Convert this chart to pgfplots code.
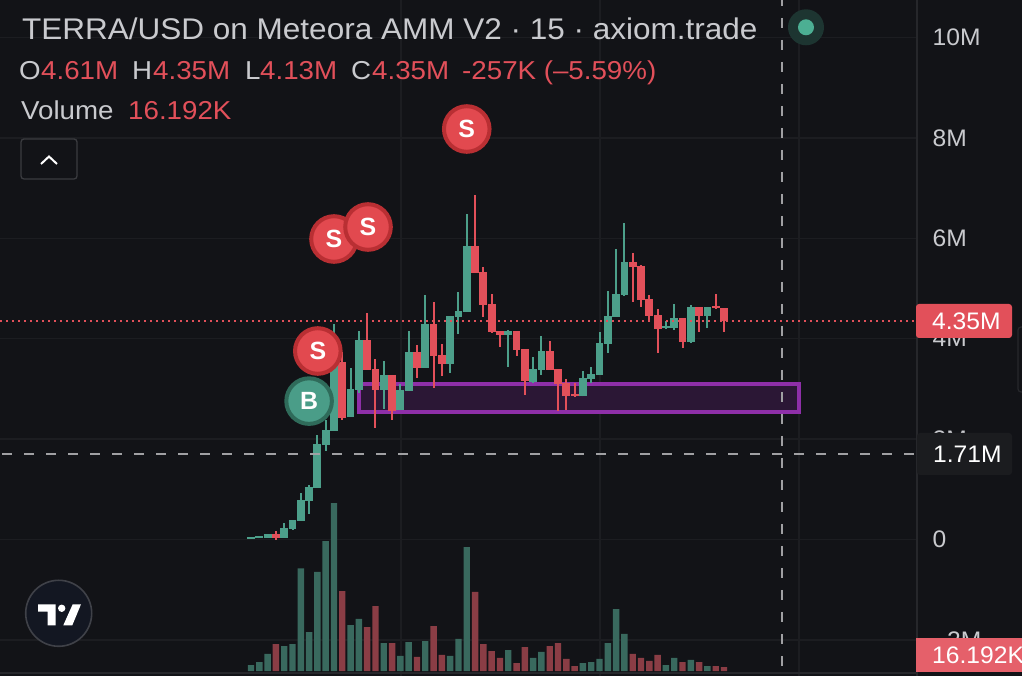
\documentclass[border=0pt]{standalone}
\usepackage{pgfplots}
\usepackage{pgfplotstable}
\usepackage{fontspec}
\pgfplotsset{compat=1.18}
\setmainfont{Liberation Sans}
\newfontfamily\uilegend[FakeStretch=1.07]{Liberation Sans}
\newfontfamily\uititle[FakeStretch=1.054]{Liberation Sans}
\newfontfamily\uitick[FakeStretch=1.03]{Liberation Sans}
\definecolor{bg}{HTML}{121317}
\definecolor{gridc}{HTML}{1C1D21}
\definecolor{sepc}{HTML}{26272B}
\definecolor{upc}{HTML}{4C9F8A}
\definecolor{downc}{HTML}{E2505A}
\definecolor{upv}{HTML}{39695E}
\definecolor{downv}{HTML}{8A3D45}
\definecolor{purp}{HTML}{8E2FA8}
\definecolor{purpf}{HTML}{2B1735}
\definecolor{txt}{HTML}{C9CACE}
\definecolor{cross}{HTML}{A0A0A3}
\definecolor{sbord}{HTML}{B92F33}
\definecolor{sfill}{HTML}{E2494F}
\definecolor{bbord}{HTML}{2F6B5A}
\definecolor{bfill}{HTML}{4A9D88}
\definecolor{btn}{HTML}{3A3B3F}
\definecolor{dotout}{HTML}{1D3531}
\definecolor{dotin}{HTML}{4CAF93}
\definecolor{logof}{HTML}{131722}
\definecolor{logob}{HTML}{3F4148}
\definecolor{tagd}{HTML}{1B1C1F}
\definecolor{tagv}{HTML}{E5606A}
\pgfplotstableread{
i o h l c v
0 0.01 0.05 0.01 0.05 24
1 0.02 0.06 0.02 0.06 36
2 0.03 0.11 0.03 0.11 69
4 0.03 0.32 0.03 0.22 101
5 0.21 0.39 0.20 0.39 109
6 0.37 0.92 0.37 0.79 416
7 0.77 1.085 0.51 1.05 157
8 1.03 2.08 1.03 1.90 401
9 1.89 2.38 1.77 2.18 526
10 2.17 4.29 2.17 3.50 680
12 2.44 3.41 2.44 2.99 186
13 2.98 4.15 2.91 3.97 211
16 2.98 3.56 2.60 3.28 113
18 2.57 3.10 2.57 2.98 61
19 2.96 4.15 2.96 3.74 117
21 3.42 4.87 3.42 4.29 121
24 3.50 4.45 3.32 4.45 61
25 4.43 4.94 4.09 4.55 130
26 4.54 6.48 4.54 5.85 502
31 4.08 4.17 3.44 4.15 85
34 3.14 3.63 3.11 3.39 53
35 3.38 4.05 3.28 3.75 77
40 2.85 3.35 2.85 3.22 32
41 3.20 3.43 3.11 3.30 36
42 3.28 4.14 3.28 3.91 49
43 3.89 4.95 3.72 4.45 113
44 4.44 5.78 4.44 4.90 251
45 4.88 6.30 4.86 5.53 150
50 4.21 4.35 4.19 4.25 24
51 4.21 4.69 4.17 4.41 53
53 3.93 4.68 3.91 4.64 45
55 4.46 4.63 4.22 4.63 20
}\upbars
\pgfplotstableread{
i o h l c v
3 0.11 0.175 -0.01 0.03 109
11 3.54 3.74 2.39 2.43 324
14 3.97 4.51 3.38 3.38 178
15 3.39 3.59 2.22 2.98 263
17 3.28 3.28 2.38 2.56 113
20 3.74 3.87 3.21 3.41 57
22 4.29 4.73 3.01 3.66 182
23 3.68 3.89 3.26 3.50 65
27 5.85 6.86 5.31 5.31 320
28 5.33 5.42 4.44 4.67 109
29 4.69 4.89 4.11 4.13 81
30 4.15 4.15 3.83 4.07 53
32 4.15 4.15 3.66 3.77 32
33 3.79 3.79 2.88 3.16 97
36 3.75 3.95 3.38 3.38 101
37 3.39 3.39 2.55 3.10 113
38 3.12 3.19 2.58 2.85 49
39 2.90 3.12 2.84 2.85 20
46 5.53 5.70 4.74 5.43 69
47 5.45 5.47 4.64 4.77 53
48 4.79 4.88 4.36 4.45 41
49 4.47 4.59 3.72 4.20 65
52 4.41 4.41 3.82 3.93 36
54 4.63 4.63 4.13 4.46 36
56 4.65 4.89 4.59 4.61 20
57 4.61 4.61 4.13 4.35 16.192
}\downbars
\pgfplotsset{
  chartbox/.style={at={(0,0)},anchor=south west,scale only axis,width=917bp,height=676bp,
    xmin=-30.25,xmax=80.26},
  priceaxis/.style={chartbox,ymin=-2.719,ymax=10.747},
  wick/.style={draw=none,mark=none,forget plot,error bars/.cd,y dir=both,y explicit,error mark=none,
    error bar style={#1,line width=2bp}},
  body/.style 2 args={draw=none,mark=none,forget plot,error bars/.cd,y dir=#2,y explicit,error mark=none,
    error bar style={#1,line width=7.8bp}},
  tradeS/.style={only marks,mark=*,mark size=22.8bp,
    mark options={draw=sbord,fill=sfill,line width=4bp},
    nodes near coords={S},
    every node near coord/.style={anchor=center,inner sep=0pt,text=white,font=\fontsize{25}{25}\selectfont\bfseries}},
  tradeB/.style={only marks,mark=*,mark size=22.8bp,
    mark options={draw=bbord,fill=bfill,line width=4bp},
    nodes near coords={B},
    every node near coord/.style={anchor=center,inner sep=0pt,text=white,font=\fontsize{25}{25}\selectfont\bfseries}},
}
\begin{document}
\begin{tikzpicture}
\useasboundingbox (0,0) rectangle (1022bp,676bp);
\fill[bg] (0,0) rectangle (1022bp,676bp);
% grid and price scale
\begin{axis}[priceaxis,
  axis line style={draw=none},
  xtick={18.08,42.06,66.04},xticklabels={},
  ytick={-2,0,2,4,6,8,10},
  yticklabels={−2M,0,2M,4M,6M,8M,10M},
  ymajorgrids,xmajorgrids,
  grid style={gridc,line width=1.4bp},
  major tick length=0pt,
  ytick pos=right,
  yticklabel style={anchor=west,xshift=15.5bp,text=txt,font=\fontsize{24}{24}\selectfont\uitick,inner sep=0pt},
]
\end{axis}
% volume
\begin{axis}[chartbox,hide axis,ymin=-20.2,ymax=2717.6]
\addplot[ybar,bar width=6.4bp,bar shift=0pt,fill=upv,draw=none] table[x=i,y=v] {\upbars};
\addplot[ybar,bar width=6.4bp,bar shift=0pt,fill=downv,draw=none] table[x=i,y=v] {\downbars};
\end{axis}
% candles
\begin{axis}[priceaxis,hide axis]
\draw[purp,line width=4bp,fill=purpf] (axis cs:13.02,2.54) rectangle (axis cs:66,3.098);
\addplot[wick=upc] table[x=i,y=o,y error plus expr=\thisrow{h}-\thisrow{o},y error minus expr=\thisrow{o}-\thisrow{l}] {\upbars};
\addplot[wick=downc] table[x=i,y=o,y error plus expr=\thisrow{h}-\thisrow{o},y error minus expr=\thisrow{o}-\thisrow{l}] {\downbars};
\addplot[body={upc}{plus}] table[x=i,y=o,y error plus expr=\thisrow{c}-\thisrow{o}] {\upbars};
\addplot[body={downc}{minus}] table[x=i,y=o,y error minus expr=\thisrow{o}-\thisrow{c}] {\downbars};
% last price and crosshair
\addplot[downc,line width=1.5bp,dash pattern=on 2bp off 4bp,mark=none] coordinates {(-30.25,4.353) (80.26,4.353)};
\addplot[cross,line width=2bp,dash pattern=on 10bp off 12bp,mark=none] coordinates {(-30,1.71) (80.26,1.71)};
\addplot[cross,line width=2bp,dash pattern=on 10bp off 12bp,dash phase=4bp,mark=none] coordinates {(64,10.747) (64,-2.719)};
% trades
\addplot[tradeB] coordinates {(7,2.757)};
\addplot[tradeS] coordinates {(8.05,3.755)};
\addplot[tradeS] coordinates {(10,5.986)};
\addplot[tradeS] coordinates {(14.1,6.225)};
\addplot[tradeS] coordinates {(26,8.177)};
\end{axis}
\begin{scope}[x=1bp,y=-1bp,yshift=676bp]
\draw[sepc,line width=1.2bp] (917,0) -- (917,676);
\draw[sepc,line width=1.2bp] (0,673) -- (917,673);
% legend text
\node[anchor=base west,inner sep=0pt,text=txt,font=\fontsize{30}{30}\selectfont\uititle] at (22,39.5) {TERRA/USD on Meteora AMM V2 · 15 · axiom.trade};
\begin{scope}[every node/.style={anchor=base west,inner sep=0pt,font=\fontsize{26}{26}\selectfont\uilegend}]
\node[text=txt] at (19,79.5) {O};
\node[text=downc] at (41,79.5) {4.61M};
\node[text=txt] at (132,79.5) {H};
\node[text=downc] at (153,79.5) {4.35M};
\node[text=txt] at (245,79.5) {L};
\node[text=downc] at (260,79.5) {4.13M};
\node[text=txt] at (351,79.5) {C};
\node[text=downc] at (372,79.5) {4.35M};
\node[text=downc] at (462,79.5) {-257K (–5.59\%)};
\node[text=txt] at (21,120) {Volume};
\node[text=downc] at (128,120) {16.192K};
\end{scope}
% collapse button
\draw[btn,line width=1.3bp,rounded corners=3bp] (21,139) rectangle (77,179);
\draw[white,line width=2bp] (41,164) -- (49,156.5) -- (57,164);
% status dot
\fill[dotout] (806,27.3) circle[radius=18];
\fill[dotin] (806,27.3) circle[radius=8];
% logo
\fill[logof] (58.7,613.3) circle[radius=33];
\draw[logob,line width=1.6bp] (58.7,613.3) circle[radius=33];
\fill[white] (38,604.3) -- (55.7,604.3) -- (55.7,625.3) -- (47.7,625.3) -- (47.7,611.7) -- (38,611.7) -- cycle;
\fill[white] (61.7,608.3) circle[radius=3.7];
\fill[white] (72.7,604.3) -- (81,604.3) -- (72.3,625.3) -- (63.3,625.3) -- cycle;
% right-hand tags
\draw[sepc,line width=1.2bp,rounded corners=3bp] (1018,327) rectangle (1040,392);
\fill[downc,rounded corners=3bp] (916,304) -- (1012,304) -- (1012,338) -- (916,338) -- cycle;
\node[anchor=base west,inner sep=0pt,text=white,font=\fontsize{24}{24}\selectfont\uitick] at (932,330) {4.35M};
\fill[tagd,rounded corners=3bp] (917,433) rectangle (1012,475);
\node[anchor=base west,inner sep=0pt,text=white,font=\fontsize{24}{24}\selectfont\uitick] at (933,463) {1.71M};
\fill[tagv] (916,638) rectangle (1022,672);
\node[anchor=base west,inner sep=0pt,text=white,font=\fontsize{24}{24}\selectfont\uitick] at (932,664) {16.192K};
\end{scope}
\end{tikzpicture}
\end{document}
